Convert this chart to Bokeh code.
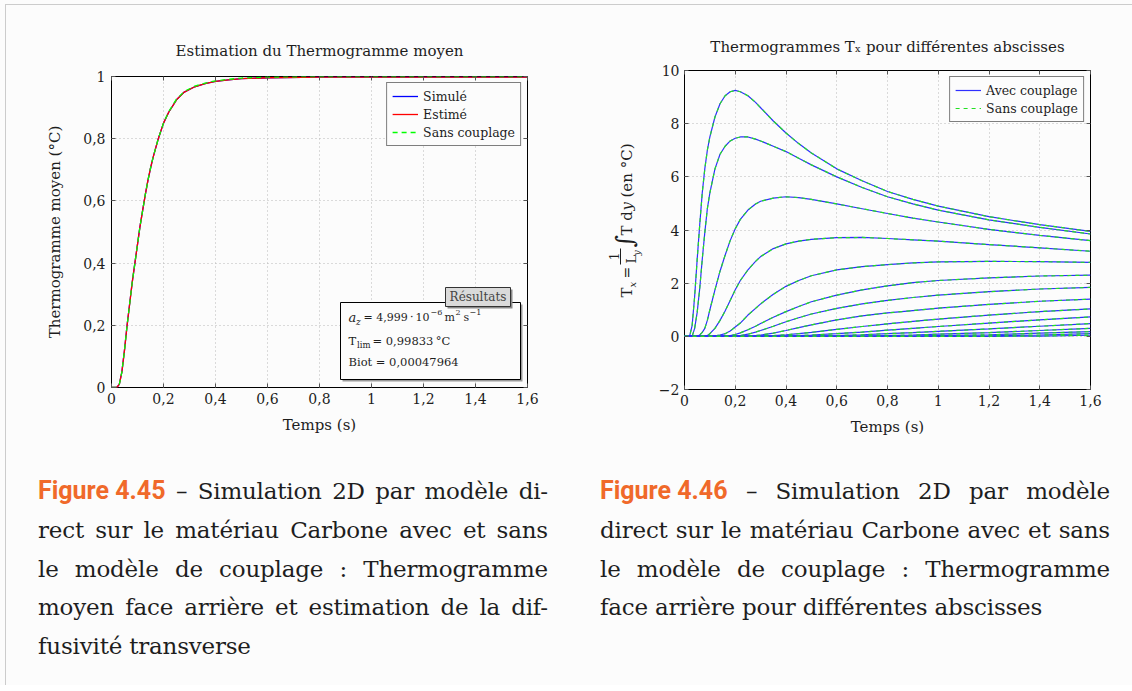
from bokeh.plotting import figure
from bokeh.models import (Legend, LegendItem, Label, BoxAnnotation, FixedTicker,
                          CustomJSTickFormatter, LinearAxis, Div)
from bokeh.layouts import column, row
from bokeh.embed import file_html
from bokeh.resources import INLINE

# ---------------- data: left chart (mean thermogram) ----------------
t_moyen = [0, 0.02, 0.03, 0.04, 0.05, 0.06, 0.07, 0.08, 0.09, 0.10, 0.11, 0.12, 0.13,
           0.14, 0.15, 0.16, 0.18, 0.20, 0.22, 0.25, 0.28, 0.32, 0.36, 0.40, 0.45,
           0.50, 0.60, 0.80, 1.00, 1.60]
simule = [0, 0, 0.01, 0.05, 0.12, 0.20, 0.27, 0.34, 0.40, 0.46, 0.52, 0.57, 0.62,
          0.665, 0.705, 0.74, 0.80, 0.85, 0.885, 0.925, 0.95, 0.967, 0.977, 0.984, 0.989,
          0.993, 0.996, 0.998, 0.9983, 0.9983]
estime = [0, 0, 0.01, 0.05, 0.12, 0.20, 0.27, 0.34, 0.40, 0.46, 0.52, 0.57, 0.62,
          0.665, 0.705, 0.74, 0.80, 0.85, 0.885, 0.925, 0.95, 0.967, 0.977, 0.984, 0.989,
          0.993, 0.996, 0.998, 0.9983, 0.9983]
sans_couplage_moyen = [0, 0, 0.01, 0.05, 0.12, 0.20, 0.27, 0.34, 0.40, 0.46, 0.52, 0.57, 0.62,
                       0.665, 0.705, 0.74, 0.80, 0.85, 0.887, 0.927, 0.952, 0.969, 0.979, 0.986, 0.991,
                       0.995, 0.998, 1.0, 1.0, 1.0]
moy_x_ticks = [0, 0.2, 0.4, 0.6, 0.8, 1.0, 1.2, 1.4, 1.6]
moy_x_labels = ["0", "0,2", "0,4", "0,6", "0,8", "1", "1,2", "1,4", "1,6"]
moy_y_ticks = [0, 0.2, 0.4, 0.6, 0.8, 1.0]
moy_y_labels = ["0", "0,2", "0,4", "0,6", "0,8", "1"]

# ---------------- data: right chart (T_x for several abscissas) ----------------
t_x = [0, 0.02, 0.03, 0.04, 0.05, 0.06, 0.07, 0.08, 0.09, 0.10, 0.12, 0.14, 0.16, 0.18,
       0.20, 0.22, 0.25, 0.28, 0.30, 0.35, 0.40, 0.45, 0.50, 0.60, 0.70, 0.80, 0.90,
       1.00, 1.20, 1.40, 1.60]
tx_avec = [
    [0, 0, 0.4, 1.5, 2.9, 4.2, 5.4, 6.3, 7.0, 7.5, 8.25, 8.75, 9.05, 9.2, 9.25, 9.2,
     9.05, 8.8, 8.6, 8.1, 7.65, 7.25, 6.9, 6.3, 5.85, 5.45, 5.15, 4.9, 4.5, 4.2, 3.95],
    [0, 0, 0, 0.3, 0.9, 1.8, 2.9, 3.9, 4.8, 5.4, 6.3, 6.85, 7.15, 7.35, 7.45, 7.5,
     7.5, 7.42, 7.35, 7.15, 6.95, 6.7, 6.45, 6.0, 5.6, 5.25, 4.98, 4.75, 4.38, 4.1, 3.85],
    [0, 0, 0, 0, 0, 0.05, 0.15, 0.3, 0.6, 1.0, 1.75, 2.45, 3.05, 3.6, 4.05, 4.4,
     4.75, 4.98, 5.08, 5.2, 5.25, 5.22, 5.15, 4.98, 4.8, 4.62, 4.45, 4.3, 4.02, 3.8, 3.6],
    [0, 0, 0, 0, 0, 0, 0, 0, 0.03, 0.1, 0.3, 0.6, 0.95, 1.35, 1.75, 2.1,
     2.5, 2.82, 3.0, 3.3, 3.48, 3.58, 3.65, 3.71, 3.72, 3.68, 3.63, 3.58, 3.45, 3.33, 3.2],
    [0, 0, 0, 0, 0, 0, 0, 0, 0, 0, 0.02, 0.05, 0.1, 0.2, 0.35, 0.5,
     0.8, 1.05, 1.22, 1.58, 1.88, 2.1, 2.28, 2.5, 2.62, 2.7, 2.76, 2.8, 2.82, 2.81, 2.78],
    [0, 0, 0, 0, 0, 0, 0, 0, 0, 0, 0, 0, 0.01, 0.03, 0.07, 0.13,
     0.25, 0.38, 0.48, 0.72, 0.93, 1.12, 1.3, 1.55, 1.75, 1.9, 2.02, 2.1, 2.2, 2.27, 2.3],
    [0, 0, 0, 0, 0, 0, 0, 0, 0, 0, 0, 0, 0, 0, 0.01, 0.03,
     0.08, 0.16, 0.22, 0.38, 0.55, 0.7, 0.84, 1.05, 1.22, 1.35, 1.46, 1.55, 1.68, 1.78, 1.84],
    [0, 0, 0, 0, 0, 0, 0, 0, 0, 0, 0, 0, 0, 0, 0, 0,
     0.01, 0.03, 0.05, 0.12, 0.22, 0.33, 0.43, 0.62, 0.77, 0.88, 0.97, 1.06, 1.2, 1.32, 1.4],
    [0, 0, 0, 0, 0, 0, 0, 0, 0, 0, 0, 0, 0, 0, 0, 0,
     0, 0, 0.01, 0.03, 0.06, 0.1, 0.15, 0.26, 0.37, 0.47, 0.56, 0.65, 0.8, 0.93, 1.03],
    [0, 0, 0, 0, 0, 0, 0, 0, 0, 0, 0, 0, 0, 0, 0, 0,
     0, 0, 0, 0, 0.01, 0.03, 0.05, 0.1, 0.16, 0.23, 0.3, 0.37, 0.5, 0.62, 0.73],
    [0, 0, 0, 0, 0, 0, 0, 0, 0, 0, 0, 0, 0, 0, 0, 0,
     0, 0, 0, 0, 0, 0, 0.01, 0.03, 0.06, 0.1, 0.14, 0.19, 0.28, 0.38, 0.48],
    [0, 0, 0, 0, 0, 0, 0, 0, 0, 0, 0, 0, 0, 0, 0, 0,
     0, 0, 0, 0, 0, 0, 0, 0, 0.01, 0.03, 0.05, 0.08, 0.14, 0.22, 0.3],
    [0, 0, 0, 0, 0, 0, 0, 0, 0, 0, 0, 0, 0, 0, 0, 0,
     0, 0, 0, 0, 0, 0, 0, 0, 0, 0, 0.01, 0.03, 0.06, 0.12, 0.18],
    [0, 0, 0, 0, 0, 0, 0, 0, 0, 0, 0, 0, 0, 0, 0, 0,
     0, 0, 0, 0, 0, 0, 0, 0, 0, 0, 0, 0.01, 0.02, 0.05, 0.1],
    [0, 0, 0, 0, 0, 0, 0, 0, 0, 0, 0, 0, 0, 0, 0, 0,
     0, 0, 0, 0, 0, 0, 0, 0, 0, 0, 0, 0, 0, 0.01, 0.04],
]
# the "sans couplage" curves coincide with the coupled ones in the picture
tx_sans = [list(c) for c in tx_avec]
tx_x_ticks = [0, 0.2, 0.4, 0.6, 0.8, 1.0, 1.2, 1.4, 1.6]
tx_x_labels = ["0", "0,2", "0,4", "0,6", "0,8", "1", "1,2", "1,4", "1,6"]
tx_y_ticks = [-2, 0, 2, 4, 6, 8, 10]
tx_y_labels = ["\u22122", "0", "2", "4", "6", "8", "10"]

caption_left = ["Simulation 2D par modèle di-",
                "rect sur le matériau Carbone avec et sans",
                "le modèle de couplage : Thermogramme",
                "moyen face arrière et estimation de la dif-",
                "fusivité transverse"]
caption_right = ["Simulation 2D par modèle",
                 "direct sur le matériau Carbone avec et sans",
                 "le modèle de couplage : Thermogramme",
                 "face arrière pour différentes abscisses"]

# ---------------- styles ----------------
FONT = "DejaVu Serif"
BG = "#fcfcfc"
TXT = "#1e1e1e"


def fmt(tvals, tlabs):
    return CustomJSTickFormatter(args=dict(tvals=tvals, tlabs=tlabs), code="""
        for (let i = 0; i < tvals.length; i++) {
            if (Math.abs(tvals[i] - tick) < 1e-9) { return tlabs[i]; }
        }
        return '';
    """)


def setup(p, xt, xl, yt, yl, xlabel, ylabel):
    xtk = FixedTicker(ticks=xt)
    ytk = FixedTicker(ticks=yt)
    p.xaxis.ticker = xtk
    p.yaxis.ticker = ytk
    p.xgrid.ticker = xtk
    p.ygrid.ticker = ytk
    p.xaxis.formatter = fmt(xt, xl)
    p.yaxis.formatter = fmt(yt, yl)
    for g in (p.xgrid, p.ygrid):
        g.grid_line_color = "#b8b8b8"
        g.grid_line_dash = "1 3"
        g.grid_line_width = 1
    for ax in (p.xaxis, p.yaxis):
        ax.axis_line_color = None
        ax.major_tick_in = 4
        ax.major_tick_out = 0
        ax.major_tick_line_color = "#555555"
        ax.minor_tick_line_color = None
        ax.major_label_text_font = FONT
        ax.major_label_text_font_size = "14px"
        ax.major_label_text_color = TXT
        ax.axis_label_text_font = FONT
        ax.axis_label_text_font_size = "15px"
        ax.axis_label_text_font_style = "normal"
        ax.axis_label_text_color = TXT
    p.xaxis.major_label_standoff = 5
    p.yaxis.major_label_standoff = 6
    if xlabel:
        p.xaxis.axis_label = xlabel
        p.xaxis.axis_label_standoff = 9
    if ylabel:
        p.yaxis.axis_label = ylabel
        p.yaxis.axis_label_standoff = 16
    for loc, tk in (("above", xtk), ("right", ytk)):
        m = LinearAxis(ticker=tk, formatter=fmt([], []), axis_line_color=None,
                       major_tick_in=4, major_tick_out=0, major_tick_line_color="#555555",
                       minor_tick_line_color=None, major_label_text_font_size="0px",
                       major_label_standoff=0)
        p.add_layout(m, loc)
    p.outline_line_color = "black"
    p.outline_line_width = 1
    p.outline_line_alpha = 1
    p.background_fill_color = BG
    p.border_fill_alpha = 0
    p.title.text_font = FONT
    p.title.text_font_size = "15px"
    p.title.text_font_style = "normal"
    p.title.text_color = TXT
    p.title.align = "center"


def style_legend(lg):
    lg.location = "top_right"
    lg.margin = 6
    lg.padding = 5
    lg.spacing = 2
    lg.border_line_color = "black"
    lg.border_line_width = 1
    lg.background_fill_color = BG
    lg.background_fill_alpha = 1
    lg.label_text_font = FONT
    lg.label_text_font_size = "12.5px"
    lg.label_text_color = TXT
    lg.glyph_width = 26
    lg.glyph_height = 16
    lg.label_height = 16
    lg.label_standoff = 5


def sbox(l, r, b, t, fill, line=None, lw=1):
    return BoxAnnotation(left=l, right=r, bottom=b, top=t,
                         left_units="screen", right_units="screen",
                         bottom_units="screen", top_units="screen",
                         fill_color=fill, fill_alpha=1,
                         line_color=line, line_width=lw, line_alpha=1 if line else 0)


def lab(p, x, y, text, size="12px", style="normal", align="left", baseline="middle",
        angle=0, color=TXT):
    p.add_layout(Label(x=x, y=y, x_units="screen", y_units="screen", text=text,
                       text_font=FONT, text_font_size=size, text_font_style=style,
                       text_align=align, text_baseline=baseline, text_color=color,
                       angle=angle, angle_units="deg"))


# ---------------- left figure ----------------
p1 = figure(width=566, height=440, x_range=(0, 1.6), y_range=(0, 1),
            min_border_left=111, min_border_right=39, min_border_top=76, min_border_bottom=53,
            toolbar_location=None, tools="", output_backend="svg",
            title="Estimation du Thermogramme moyen")
setup(p1, moy_x_ticks, moy_x_labels, moy_y_ticks, moy_y_labels,
      "Temps (s)", "Thermogramme moyen (°C)")
p1.title.standoff = 34

r_sim = p1.line(t_moyen, simule, line_color="#0000ff", line_width=1.3)
r_est = p1.line(t_moyen, estime, line_color="#ff0000", line_width=1.3)
r_san = p1.line(t_moyen, sans_couplage_moyen, line_color="#00ff00", line_width=1.3, line_dash="5 4")
lg1 = Legend(items=[LegendItem(label="Simulé", renderers=[r_sim]),
                    LegendItem(label="Estimé", renderers=[r_est]),
                    LegendItem(label="Sans couplage", renderers=[r_san])])
style_legend(lg1)
p1.add_layout(lg1)

# results box (screen units, relative to the frame)
p1.add_layout(sbox(231, 411, 6, 83, "#9a9a9a"))
p1.add_layout(sbox(229, 409, 8, 85, BG, "black"))
p1.add_layout(sbox(336, 401, 79, 98, "#8a8a8a"))
p1.add_layout(sbox(334, 399, 81, 100, "#dadada", "#333333"))
lab(p1, 366.5, 90.5, "Résultats", size="12px", align="center", color="#444444")
lab(p1, 237, 70, "a", size="13px", style="italic")
lab(p1, 244.5, 66, "z", size="9px", style="italic")
lab(p1, 252, 70, "= 4,999\u2009·\u200910", size="11px")
lab(p1, 319, 75, "\u22126", size="8px")
lab(p1, 333, 70, "m", size="11px")
lab(p1, 344, 75, "2", size="8px")
lab(p1, 352, 70, "s", size="11px")
lab(p1, 358, 75, "\u22121", size="8px")
lab(p1, 237, 47, "T", size="11.5px")
lab(p1, 245.5, 43, "lim", size="8.5px")
lab(p1, 261, 47, "= 0,99833\u2009°C", size="11.5px")
lab(p1, 237, 26, "Biot = 0,00047964", size="11.5px")

# ---------------- y label panel for the right chart ----------------
plab = figure(width=80, height=440, x_range=(0, 1), y_range=(0, 1),
              min_border_left=0, min_border_right=0, min_border_top=0, min_border_bottom=0,
              toolbar_location=None, tools="", output_backend="svg",
              x_axis_type=None, y_axis_type=None)
plab.outline_line_color = None
plab.background_fill_alpha = 0
plab.border_fill_alpha = 0
lab(plab, 60, 143, "T", size="15px", angle=90)
lab(plab, 66, 153, "x", size="10px", style="italic", angle=90)
lab(plab, 60, 162, "=", size="14px", angle=90)
lab(plab, 47, 184, "1", size="12px", align="center", angle=90)
plab.add_layout(sbox(53.5, 54.5, 176, 192, TXT))
lab(plab, 65, 177, "L", size="13px", angle=90)
lab(plab, 70, 185, "y", size="9px", style="italic", angle=90)
lab(plab, 58, 193, "∫", size="24px", angle=90)
lab(plab, 60, 205, "T d", size="15px", angle=90)
lab(plab, 60, 230, "y", size="15px", style="italic", angle=90)
lab(plab, 60, 243, "(en °C)", size="15px", angle=90)

# ---------------- right figure ----------------
p2 = figure(width=486, height=440, x_range=(0, 1.6), y_range=(-2, 10),
            min_border_left=38, min_border_right=42, min_border_top=70, min_border_bottom=51,
            toolbar_location=None, tools="", output_backend="svg",
            title="Thermogrammes Tₓ pour différentes abscisses")
setup(p2, tx_x_ticks, tx_x_labels, tx_y_ticks, tx_y_labels, "Temps (s)", None)
p2.yaxis[0].major_label_standoff = 5
p2.title.standoff = 29

r_av = None
r_sa = None
for ca, cs in zip(tx_avec, tx_sans):
    ra = p2.line(t_x, ca, line_color="#2f2fff", line_width=1.2)
    rs = p2.line(t_x, cs, line_color="#22e022", line_width=1.2, line_dash="4 4")
    r_av = r_av or ra
    r_sa = r_sa or rs
lg2 = Legend(items=[LegendItem(label="Avec couplage", renderers=[r_av]),
                    LegendItem(label="Sans couplage", renderers=[r_sa])])
style_legend(lg2)
p2.add_layout(lg2)


# ---------------- captions ----------------
def caption_block(num, lines, left):
    out = []
    for i, ln in enumerate(lines):
        words = ln.split(" ")
        if i == 0:
            words = ['<span style="color:#f0692a;font-family:Roboto,sans-serif;font-weight:700;'
                     'font-size:25px;letter-spacing:0;">' + num + '</span>', "–"] + words
        if i < len(lines) - 1:
            out.append('<div style="display:flex;justify-content:space-between;white-space:nowrap;">'
                       + "".join("<span>%s</span>" % w for w in words) + "</div>")
        else:
            out.append('<div style="white-space:nowrap;">' + " ".join(words) + "</div>")
    return ('<div style="position:absolute;left:%dpx;top:32px;width:510px;">%s</div>'
            % (left, "".join(out)))


cap_html = ('<div style="position:relative;width:1132px;height:245px;'
            'font-family:\'DejaVu Serif\',serif;font-size:23px;line-height:38.75px;'
            'letter-spacing:-0.2px;color:#1e1e1e;">'
            + caption_block("Figure 4.45", caption_left, 38)
            + caption_block("Figure 4.46", caption_right, 600)
            + "</div>")
caps = Div(text=cap_html, width=1132, height=245, margin=(0, 0, 0, 0))

top_row = row(column(p1), column(plab), column(p2))
layout = column(top_row, caps,
                styles={"background-color": BG,
                        "background-image": "linear-gradient(#cccccc,#cccccc), linear-gradient(#cccccc,#cccccc)",
                        "background-size": "1px 100%, 100% 1px",
                        "background-position": "5px 4px, 5px 4px",
                        "background-repeat": "no-repeat"})

open("out.html", "w").write(file_html(layout, INLINE))
